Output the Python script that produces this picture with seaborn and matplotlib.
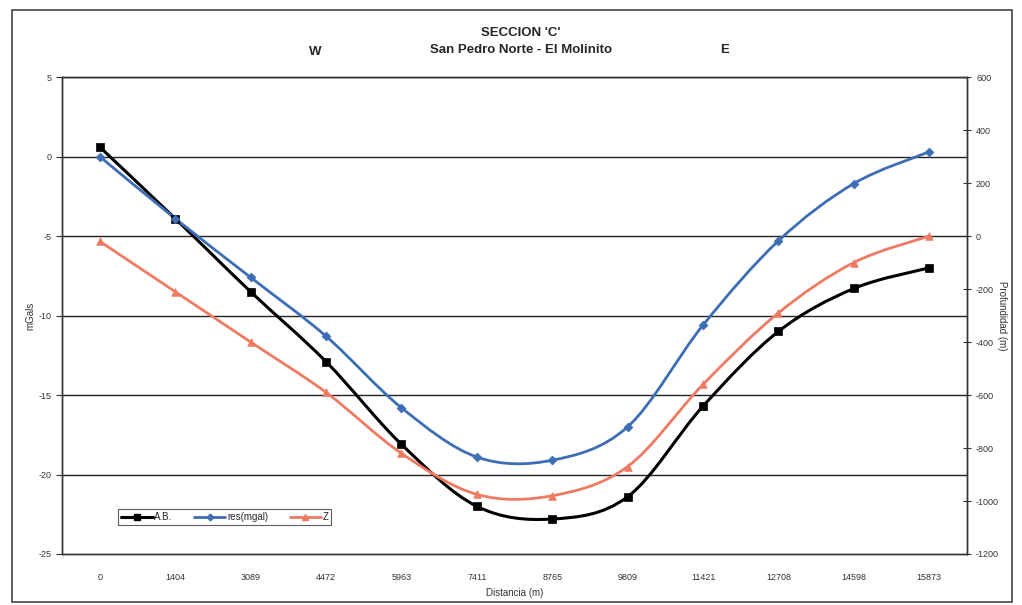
import numpy as np
import pandas as pd
import matplotlib
matplotlib.use("Agg")
import matplotlib.pyplot as plt
import seaborn as sns
from matplotlib.path import Path
from matplotlib.patches import PathPatch, Rectangle
from matplotlib.lines import Line2D

distances = ["0", "1404", "3089", "4472", "5963", "7411", "8765", "9809",
             "11421", "12708", "14598", "15873"]
ab_mgal = [0.6, -3.9, -8.5, -12.9, -18.1, -22.0, -22.8, -21.4, -15.7, -11.0, -8.3, -7.0]
res_mgal = [0.0, -3.9, -7.6, -11.3, -15.8, -18.9, -19.1, -17.0, -10.6, -5.3, -1.7, 0.3]
z_m = [-20, -210, -400, -590, -820, -975, -980, -870, -560, -290, -100, 0]

sns.set_theme(style="white")
plt.rcParams['font.family'] = ['Liberation Sans', 'DejaVu Sans']
plt.rcParams['axes.unicode_minus'] = False

BLUE = "#3d6db4"
RED = "#ee7a62"

fig = plt.figure(figsize=(10.22, 6.05), dpi=100)
ax = fig.add_axes([0.0607, 0.0843, 0.8855, 0.7884])
ax2 = ax.twinx()

xi = np.arange(len(distances))


def smooth_path(x, y, t=1/6):
    x = np.asarray(x, float); y = np.asarray(y, float)
    verts = [(x[0], y[0])]
    codes = [Path.MOVETO]
    n = len(x)
    for i in range(n - 1):
        p0 = (x[i-1], y[i-1]) if i > 0 else (x[i], y[i])
        p1 = (x[i], y[i]); p2 = (x[i+1], y[i+1])
        p3 = (x[i+2], y[i+2]) if i + 2 < n else (x[i+1], y[i+1])
        c1 = (p1[0] + (p2[0]-p0[0])*t, p1[1] + (p2[1]-p0[1])*t)
        c2 = (p2[0] - (p3[0]-p1[0])*t, p2[1] - (p3[1]-p1[1])*t)
        verts += [c1, c2, p2]
        codes += [Path.CURVE4]*3
    return Path(verts, codes)


series = [
    (ax, ab_mgal, "black", "s", "A.B.", 2.2, 6),
    (ax, res_mgal, BLUE, "D", "res(mgal)", 2.0, 4.5),
    (ax2, z_m, RED, "^", "Z", 2.0, 5.5),
]
handles = []
for a, vals, col, mk, lab, lw, ms in series:
    a.add_patch(PathPatch(smooth_path(xi, vals), facecolor="none", edgecolor=col,
                          lw=lw, zorder=3))
    df = pd.DataFrame({"x": xi, "y": vals})
    sns.scatterplot(data=df, x="x", y="y", ax=a, marker=mk, color=col, s=ms**2,
                    edgecolor=col, linewidth=0.5, zorder=4, legend=False)
    handles.append(Line2D([], [], color=col, lw=lw, marker=mk, markersize=ms * 0.75, label=lab))

ax.set_xlim(-0.5, len(distances) - 0.5)
ax.set_ylim(-25, 5)
ax2.set_ylim(-1200, 600)
ax.set_yticks(np.arange(-25, 6, 5))
ax2.set_yticks(np.arange(-1200, 601, 200))
ax.set_xticks(xi)
ax.set_xticklabels(distances)
ax.set_xticks(np.arange(-0.5, len(distances), 1), minor=True)
ax.tick_params(axis="x", which="major", length=0, pad=14, labelsize=6.5, colors="#333333")
ax.tick_params(axis="x", which="minor", length=6, direction="inout", width=0.8, color="#444444")
ax.tick_params(axis="y", length=4, direction="out", width=0.8, labelsize=6.5, colors="#333333",
               left=True)
ax2.tick_params(axis="y", length=6, direction="inout", width=0.8, labelsize=6.5,
                colors="#333333", right=True)
for lab in ax.get_yticklabels() + ax2.get_yticklabels() + ax.get_xticklabels():
    lab.set_color("#333333")

for v in np.arange(-20, 6, 5):
    ax.axhline(v, color="#222222", lw=1.0, zorder=1)

for a in (ax, ax2):
    for s in a.spines.values():
        s.set_visible(True)
        s.set_color("#333333")
        s.set_linewidth(1.0)
ax.set_xlabel("Distancia (m)", fontsize=7, color="#333333", labelpad=4)
ax.set_ylabel("mGals", fontsize=7, color="#333333", labelpad=2)
ax2.set_ylabel("Profundidad (m)", fontsize=7, color="#333333", rotation=270, labelpad=6)

leg = ax.legend(handles=handles, loc="lower left", bbox_to_anchor=(0.057, 0.05), ncol=3,
                fontsize=7, frameon=True, fancybox=False, borderpad=0.3,
                handlelength=3.2, handletextpad=0.2, columnspacing=2.2)
leg.get_frame().set_edgecolor("#333333")
leg.get_frame().set_linewidth(0.8)
leg.set_zorder(10)

fig.text(0.51, 0.945, "SECCION 'C'", ha="center", va="center", fontsize=9.5, fontweight="bold")
fig.text(0.51, 0.917, "San Pedro Norte - El Molinito", ha="center", va="center",
         fontsize=9.5, fontweight="bold")
fig.text(0.308, 0.914, "W", ha="center", va="center", fontsize=9.5, fontweight="bold")
fig.text(0.709, 0.917, "E", ha="center", va="center", fontsize=9.5, fontweight="bold")

fig.patches.append(Rectangle((0.012, 0.005), 0.978, 0.978, transform=fig.transFigure,
                             fill=False, edgecolor="#444444", lw=1.2))

fig.savefig("out.png", dpi=100, facecolor="white")
